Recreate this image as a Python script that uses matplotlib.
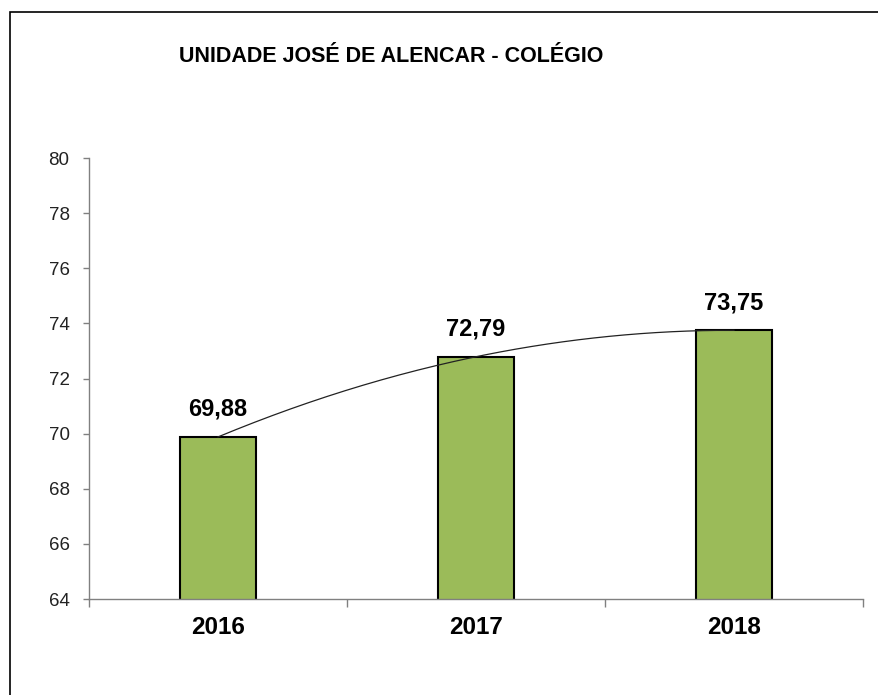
import matplotlib
matplotlib.use("Agg")
import matplotlib.pyplot as plt
import numpy as np
from matplotlib.patches import Rectangle

categories = ["2016", "2017", "2018"]
values = [69.88, 72.79, 73.75]
value_labels = ["69,88", "72,79", "73,75"]
y_ticks = [64, 66, 68, 70, 72, 74, 76, 78, 80]
title = "UNIDADE JOSÉ DE ALENCAR - COLÉGIO"

plt.rcParams['font.family'] = ['Liberation Sans', 'DejaVu Sans']

W, H = 879, 695
fig = plt.figure(figsize=(W / 100, H / 100), dpi=100)
fig.patch.set_facecolor("white")

# outer border (right and bottom edges fall outside the image)
fig.patches.append(Rectangle((9.5 / W, -0.1), 1.2, 1.1 - 12.5 / H, transform=fig.transFigure,
                             fill=False, edgecolor="black", linewidth=1.2))

left, right, bottom, top = 89, 863, 599, 158
ax = fig.add_axes([left / W, 1 - bottom / H, (right - left) / W, (bottom - top) / H])

x = np.arange(len(categories))
ax.bar(x, values, width=0.295, bottom=0, color="#9BBB59", edgecolor="black",
       linewidth=1.5, zorder=2)

# polynomial (order 2) trendline
coef = np.polyfit(x, values, 2)
xs = np.linspace(x[0], x[-1], 200)
ax.plot(xs, np.polyval(coef, xs), color="#222222", linewidth=0.9, zorder=3)

for xi, v, lab in zip(x, values, value_labels):
    ax.annotate(lab, (xi, v), xytext=(0, 11.5), textcoords="offset points",
                ha="center", va="bottom", fontsize=17, fontweight="bold")

ax.set_ylim(64, 80)
ax.set_xlim(-0.5, len(categories) - 0.5)
ax.set_yticks(y_ticks)
ax.set_yticklabels([str(t) for t in y_ticks], fontsize=13.5, color="#222222")

ax.set_xticks(x)
ax.set_xticklabels(categories, fontsize=17.5, fontweight="bold")
ax.tick_params(axis="x", which="major", length=0, pad=12)
ax.set_xticks(np.arange(len(categories) + 1) - 0.5, minor=True)
ax.tick_params(axis="x", which="minor", length=6, width=1, color="#808080")
ax.tick_params(axis="y", length=4, width=1, color="#808080", pad=10)

for s in ["top", "right"]:
    ax.spines[s].set_visible(False)
for s in ["left", "bottom"]:
    ax.spines[s].set_color("#808080")
    ax.spines[s].set_linewidth(1)
ax.set_ylim(64, 80)

fig.text(391 / W, 1 - 56 / H, title, ha="center", va="center",
         fontsize=15.5, fontweight="bold")

fig.savefig("out.png", dpi=100, facecolor="white")
